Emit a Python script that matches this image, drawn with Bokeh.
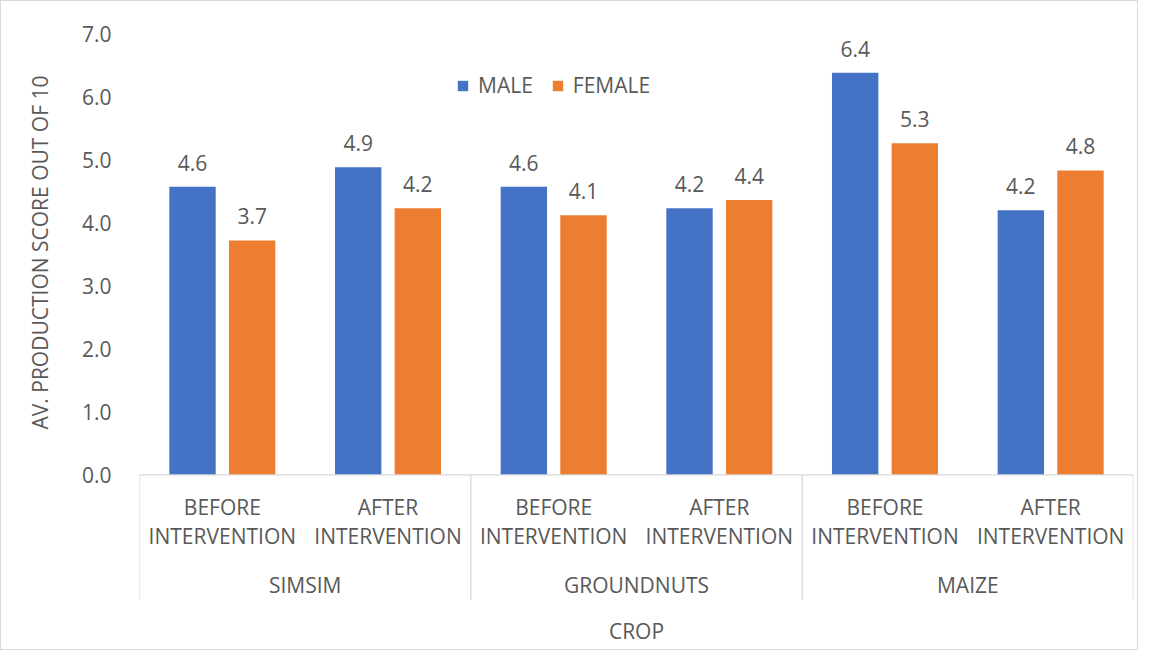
from bokeh.plotting import figure
from bokeh.models import (FactorRange, Range1d, FixedTicker, ColumnDataSource, Legend,
                          LegendItem, NumeralTickFormatter, Title)
from bokeh.transform import dodge
from bokeh.core.properties import value
from bokeh.embed import file_html
from bokeh.resources import INLINE

# ---- data ----
crops = ["SIMSIM", "GROUNDNUTS", "MAIZE"]
periods = ["BEFORE INTERVENTION", "AFTER INTERVENTION"]
male = [4.57, 4.88, 4.57, 4.23, 6.38, 4.20]
female = [3.72, 4.23, 4.12, 4.36, 5.26, 4.83]
series = ["MALE", "FEMALE"]
y_ticks = [0, 1, 2, 3, 4, 5, 6, 7]
y_title = "AV. PRODUCTION SCORE OUT OF 10"
x_title = "CROP"

# ---- style ----
FONT = "Open Sans"
FS = "21px"
TXT = "#595959"
LINE = "#D9D9D9"
BLUE = "#4472C4"
ORANGE = "#ED7D31"

factors = [(c, p) for c in crops for p in periods]
src = ColumnDataSource(dict(
    x=factors,
    male=male,
    female=female,
    male_lbl=[f"{v:.1f}" for v in male],
    female_lbl=[f"{v:.1f}" for v in female],
    sub=[p.replace(" ", "\n") for (c, p) in factors],
))

x_range = FactorRange(factors=factors, range_padding=0, factor_padding=0,
                      group_padding=0, subgroup_padding=0)

p = figure(width=1138, height=650, x_range=x_range, y_range=Range1d(-2.754, 7.352),
           output_backend="svg", toolbar_location=None, x_axis_location=None,
           min_border_left=138, min_border_right=6, min_border_top=10, min_border_bottom=3)
p.outline_line_color = None
p.grid.visible = False
p.styles = {"border": "1px solid #D9D9D9"}

rm = p.vbar(x=dodge("x", -0.18, range=x_range), top="male", width=0.28, source=src,
            fill_color=BLUE, line_color=None)
rf = p.vbar(x=dodge("x", 0.18, range=x_range), top="female", width=0.28, source=src,
            fill_color=ORANGE, line_color=None)

lbl_kw = dict(text_font=value(FONT), text_font_size=FS, text_color=TXT,
              text_align="center", text_baseline="middle")
p.text(x=dodge("x", -0.18, range=x_range), y="male", text="male_lbl", y_offset=-24,
       source=src, **lbl_kw)
p.text(x=dodge("x", 0.18, range=x_range), y="female", text="female_lbl", y_offset=-24,
       source=src, **lbl_kw)

# category axis (multi-level)
n_per = len(periods)
n_tot = len(factors)
p.segment(x0=0, y0=0, x1=n_tot, y1=0, line_color=LINE, line_width=1.3)
bounds = [i * n_per for i in range(len(crops) + 1)]
p.segment(x0=bounds, y0=[0] * len(bounds), x1=bounds, y1=[-1.98] * len(bounds),
          line_color=LINE, line_width=1.3)
p.text(x="x", y=-0.743, text="sub", source=src, text_line_height=1.03, **lbl_kw)
p.text(x=[i * n_per + n_per / 2 for i in range(len(crops))], y=[-1.748] * len(crops),
       text=crops, **lbl_kw)
p.text(x=[n_tot / 2], y=[-2.477], text=[x_title], **lbl_kw)

# y axis
p.yaxis.ticker = FixedTicker(ticks=y_ticks)
p.yaxis.formatter = NumeralTickFormatter(format="0.0")
p.yaxis.axis_line_color = None
p.yaxis.major_tick_line_color = None
p.yaxis.minor_tick_line_color = None
p.yaxis.major_label_standoff = 22
p.yaxis.major_label_text_font = FONT
p.yaxis.major_label_text_font_size = FS
p.yaxis.major_label_text_color = TXT

# y-axis title as a side title, shifted to sit centred on the 0..7 span
p.add_layout(Title(text=y_title, align="left", offset=219, text_font=FONT,
                   text_font_size=FS, text_font_style="normal", text_color=TXT,
                   standoff=46, vertical_align="top"), "left")

legend = Legend(items=[LegendItem(label=series[0], renderers=[rm]),
                       LegendItem(label=series[1], renderers=[rf])],
                orientation="horizontal", location=(317, 549), glyph_width=13, glyph_height=13,
                label_standoff=9, spacing=18, padding=0, margin=0, border_line_color=None,
                background_fill_alpha=0, label_text_font=FONT, label_text_font_size=FS,
                label_text_color=TXT)
p.add_layout(legend)

open("out.html", "w").write(file_html(p, INLINE))
